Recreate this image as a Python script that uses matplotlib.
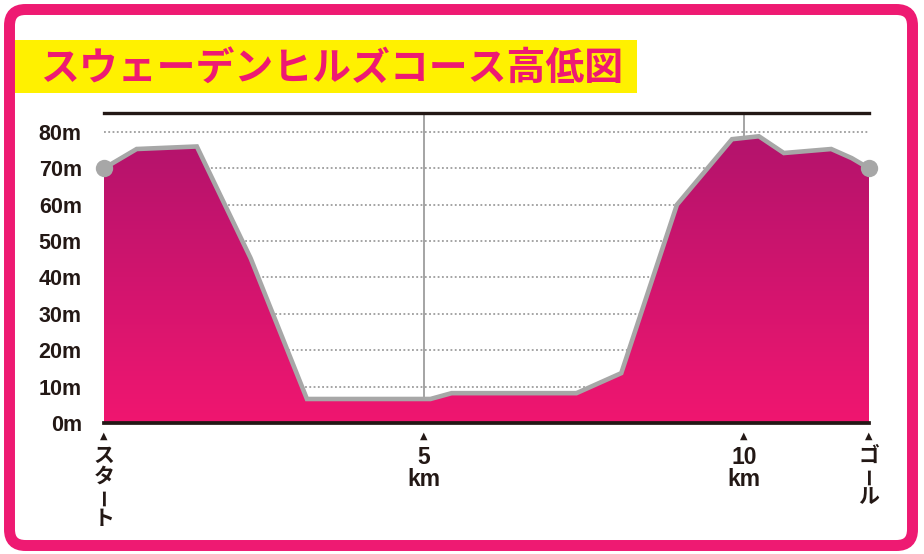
import numpy as np
import matplotlib
matplotlib.use("Agg")
import matplotlib.pyplot as plt
from matplotlib.patches import FancyBboxPatch, Rectangle, Polygon
from matplotlib.transforms import IdentityTransform, blended_transform_factory, offset_copy

plt.rcParams['font.family'] = ['Liberation Sans', 'Noto Sans CJK JP', 'DejaVu Sans']

# ---- data ----
title = "スウェーデンヒルズコース高低図"
distance_km = [0, 0.51, 1.45, 2.29, 3.17, 5.10, 5.43, 7.38, 8.08, 8.95, 9.81, 10.23, 10.62, 11.36, 11.68, 11.95]
elevation_m = [70, 75.3, 76.0, 45.3, 6.6, 6.6, 8.2, 8.2, 13.7, 60.0, 78.0, 78.8, 74.2, 75.3, 72.8, 70.0]
y_ticks = [0, 10, 20, 30, 40, 50, 60, 70, 80]
y_tick_labels = [f"{v}m" for v in y_ticks]
km_marks = [5, 10]
km_labels = ["5", "10"]
start_label = "スタート"
goal_label = "ゴール"

PINK = '#EE1A72'
YELLOW = '#FFF100'
DARK = '#231815'
GRAY_LINE = '#A7A7A7'
GRID = '#8C8C8C'

W, H = 924, 554
fig = plt.figure(figsize=(W / 100, H / 100), dpi=100)
fig.patch.set_facecolor('white')

def fx(x):
    return x / W

def fy(y_top):
    return (H - y_top) / H

# axes placement (pixels): x 104..869, y 113 (top line) .. 423 (0m)
ax = fig.add_axes([fx(104), fy(423), fx(869) - fx(104), fy(113) - fy(423)])
xmax = distance_km[-1]
ymax = 85.2
ax.set_xlim(0, xmax)
ax.set_ylim(0, ymax)
ax.set_facecolor('none')

for s in ['left', 'right']:
    ax.spines[s].set_visible(False)
ax.spines['top'].set_color(DARK)
ax.spines['top'].set_linewidth(2.4)
ax.spines['bottom'].set_color(DARK)
ax.spines['bottom'].set_linewidth(2.7)
ax.spines['top'].set_zorder(6)
ax.spines['bottom'].set_zorder(6)

# grid lines
for v in y_ticks[1:]:
    ax.axhline(v, color=GRID, lw=1.1, linestyle=(0, (1.2, 1.6)), zorder=1)
# km vertical lines
for k in km_marks:
    ax.axvline(k, color=GRID, lw=1.1, zorder=1)

# gradient fill clipped to profile
poly_xy = list(zip(distance_km, elevation_m)) + [(xmax, 0), (0, 0)]
poly = Polygon(poly_xy, closed=True, facecolor='none', edgecolor='none')
ax.add_patch(poly)
top_c = np.array([178, 19, 108]) / 255
bot_c = np.array([240, 22, 112]) / 255
n = 256
t = np.linspace(0, 1, n)[:, None]  # 0 at top, 1 at bottom
grad = top_c[None, :] * (1 - t) + bot_c[None, :] * t
grad = np.repeat(grad[:, None, :], 2, axis=1)
im = ax.imshow(grad, extent=[0, xmax, 0, 80], aspect='auto', origin='upper',
               interpolation='bilinear', zorder=2)
im.set_clip_path(poly)

# outline
ax.plot(distance_km, elevation_m, color=GRAY_LINE, lw=3.3, zorder=3,
        solid_joinstyle='miter', solid_capstyle='butt', clip_on=False)
ax.plot([distance_km[0], distance_km[-1]], [elevation_m[0], elevation_m[-1]],
        'o', color=GRAY_LINE, markersize=12.5, markeredgewidth=0, zorder=4, clip_on=False)

# y tick labels
ax.set_yticks(y_ticks)
ax.set_yticklabels(y_tick_labels, fontsize=15.5, fontweight='bold', color=DARK)
ax.tick_params(axis='y', length=0, pad=16)
ax.set_xticks([])

# x labels
trans = blended_transform_factory(ax.transData, ax.transAxes)

def put(x, dy_px, s, **kw):
    tr = offset_copy(trans, fig=fig, x=0, y=-dy_px, units='dots')
    ax.text(x, 0, s, transform=tr, ha='center', clip_on=False, **kw)

for x in [0] + km_marks + [xmax]:
    put(x, 13, "▲", fontsize=7, va='center', color=DARK, family='DejaVu Sans')

for k, lab in zip(km_marks, km_labels):
    put(k, 34, lab, fontsize=16.5, fontweight='bold', va='center', color=DARK)
    put(k, 63, "km", fontsize=16.5, fontweight='bold', va='baseline', color=DARK)

def vertical(x, s, start_dy, pitch):
    for i, ch in enumerate(s):
        if ch == 'ー':
            put(x, start_dy + i * pitch, ch, fontsize=13, fontweight='bold', va='center',
                color=DARK, rotation=90, family=['Noto Sans CJK JP', 'DejaVu Sans'])
        else:
            put(x, start_dy + i * pitch, ch, fontsize=15, fontweight='bold', va='center',
                color=DARK, family=['Noto Sans CJK JP', 'DejaVu Sans'])

vertical(0, start_label, 32, 21)
vertical(xmax, goal_label, 32, 21)

# frame (pixel coords, origin bottom-left)
ident = IdentityTransform()
frame = FancyBboxPatch((9.5, 8.5), 903, 536, boxstyle="round,pad=0,rounding_size=16",
                       transform=ident, facecolor='none', edgecolor=PINK, linewidth=7.9,
                       zorder=10)
fig.patches.append(frame)

# title band
band = Rectangle((15, H - 93), 622, 53.5, transform=ident, facecolor=YELLOW,
                 edgecolor='none', zorder=9)
fig.patches.append(band)
fig.text(fx(40.5), fy(68), title, fontsize=28, fontweight='bold', color=PINK,
         ha='left', va='center', family=['Noto Sans CJK JP', 'DejaVu Sans'], zorder=11)

fig.savefig("out.png", dpi=100)
